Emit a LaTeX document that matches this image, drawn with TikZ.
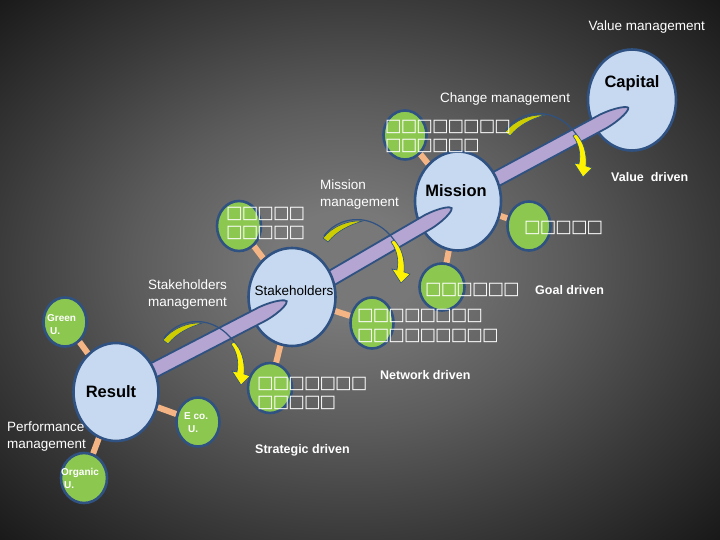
\documentclass[tikz,border=0pt]{standalone}
\usepackage{fontspec}
\setmainfont{Liberation Sans}
\newfontfamily\boxfont{DejaVu Sans Bold}
\usetikzlibrary{shapes.geometric}
\definecolor{skyfill}{RGB}{198,217,241}
\definecolor{rimblue}{RGB}{47,82,130}
\definecolor{leafgreen}{RGB}{140,200,80}
\definecolor{peach}{RGB}{244,180,132}
\definecolor{lavender}{RGB}{180,165,210}
\definecolor{olivey}{RGB}{205,205,0}
\definecolor{bgmid}{RGB}{120,120,120}
\definecolor{bgring}{RGB}{92,92,92}
\definecolor{bgout}{RGB}{58,58,58}
\definecolor{bgedge}{RGB}{20,20,20}
\pgfdeclareradialshading{bgglow}{\pgfpoint{-1bp}{0.5bp}}{color(0bp)=(bgmid); color(5bp)=(bgmid); color(15bp)=(bgring); color(25bp)=(bgout); color(37bp)=(bgedge); color(50bp)=(bgedge)}
\pgfdeclarelayer{back}
\pgfdeclarelayer{links}
\pgfsetlayers{back,links,main}
\newcommand{\sq}{\makebox[15.6pt][l]{\boxfont □}}

\begin{document}
\begin{tikzpicture}[x=1pt, y=-1pt,
  bigc/.style={ellipse, draw=rimblue, line width=2.6pt, fill=skyfill, inner sep=0pt},
  greenc/.style={ellipse, draw=rimblue, line width=2.6pt, fill=leafgreen, inner sep=0pt},
  link/.style={peach, line width=6pt},
  bar/.style={draw=rimblue, line width=1.8pt, fill=lavender},
  wtext/.style={white, font=\fontsize{13.5}{17}\selectfont, inner sep=0pt, align=left},
  wbold/.style={white, font=\bfseries\fontsize{12.5}{15}\selectfont, inner sep=0pt},
  title/.style={black, font=\bfseries\fontsize{16.5}{18}\selectfont, inner sep=0pt},
  small/.style={white, font=\bfseries\fontsize{10}{13}\selectfont, inner sep=0pt, align=left},
  boxes/.style={white, inner sep=0pt, align=left, font=\fontsize{17.5}{19.5}\selectfont}]

  % Background
  \useasboundingbox (0,0) rectangle (720,540);
  \begin{pgfonlayer}{back}
    \shade[shading=bgglow] (0,0) rectangle (720,540);
  \end{pgfonlayer}

  % Green circles
  \node[greenc, minimum width=43pt, minimum height=49pt] (greenu) at (65,322) {};
  \node[greenc, minimum width=43pt, minimum height=49pt] (ecou) at (198,422) {};
  \node[greenc, minimum width=46pt, minimum height=50pt] (organicu) at (84,478) {};
  \node[greenc, minimum width=44pt, minimum height=50pt] (stktop) at (239,226) {};
  \node[greenc, minimum width=43pt, minimum height=51pt] (stkright) at (372,323) {};
  \node[greenc, minimum width=44pt, minimum height=50pt] (stkbottom) at (270,388) {};
  \node[greenc, minimum width=43pt, minimum height=49pt] (mistop) at (405,135) {};
  \node[greenc, minimum width=43pt, minimum height=49pt] (misright) at (529,226) {};
  \node[greenc, minimum width=45pt, minimum height=47pt] (misbottom) at (442,287) {};

  % Main circles with the bar between them
  \node[bigc, minimum width=88pt, minimum height=101pt] (capital) at (632,100) {};
  \begin{scope}[shift={(498,178)}, rotate=28.3]
    \filldraw[bar] (-30,-7.5) -- (120,-7.5) .. controls (138,-6.5) and (148,-2) .. (148,0) .. controls (148,2) and (138,6.5) .. (120,7.5) -- (-30,7.5) -- cycle;
  \end{scope}
  \node[bigc, minimum width=86pt, minimum height=99pt] (mission) at (458,201) {};
  \begin{scope}[shift={(335,276)}, rotate=30.2]
    \filldraw[bar] (-30,-7.5) -- (108,-7.5) .. controls (126,-6.5) and (135,-2) .. (135,0) .. controls (135,2) and (126,6.5) .. (108,7.5) -- (-30,7.5) -- cycle;
  \end{scope}
  \node[bigc, minimum width=87pt, minimum height=98pt] (stake) at (292,297) {};
  \begin{scope}[shift={(158,368)}, rotate=27.4]
    \filldraw[bar] (-30,-7.5) -- (118,-7.5) .. controls (136,-6.5) and (145,-2) .. (145,0) .. controls (145,2) and (136,6.5) .. (118,7.5) -- (-30,7.5) -- cycle;
  \end{scope}
  \node[bigc, minimum width=85pt, minimum height=98pt] (result) at (116,392) {};

  % Yellow turn arrows
  \foreach \tx/\ty in {163/340, 323/238, 505/132} {
    \begin{scope}[shift={(\tx,\ty)}]
      \filldraw[fill=olivey, draw=rimblue, line width=0.6pt] (0,0) .. controls (10,-12) and (25,-18) .. (40,-17) .. controls (26,-13) and (14,-7) .. (5,4) -- cycle;
      \draw[rimblue, line width=1.2pt] (1,-2) .. controls (20,-28) and (65,-25) .. (80,20);
      \filldraw[fill=yellow, draw=rimblue, line width=0.6pt] (68,4) .. controls (74,12) and (76,22) .. (74,32) -- (69,31) -- (78,45) -- (87,36) -- (81,34) .. controls (82,22) and (79,10) .. (71,2) -- cycle;
    \end{scope}
  }

  % Links
  \begin{pgfonlayer}{links}
    \draw[link] (result) -- (greenu);
    \draw[link] (result) -- (ecou);
    \draw[link] (result) -- (organicu);
    \draw[link] (stake) -- (stktop);
    \draw[link] (stake) -- (stkright);
    \draw[link] (stake) -- (stkbottom);
    \draw[link] (mission) -- (mistop);
    \draw[link] (mission) -- (misright);
    \draw[link] (mission) -- (misbottom);
  \end{pgfonlayer}

  % Circle texts
  \node[title] (capitaltxt) at (632,83) {Capital};
  \node[title] (missiontxt) at (456,191) {Mission};
  \node[title] (resulttxt) at (111,392) {Result};
  \node[black, inner sep=0pt, font=\fontsize{13.5}{16}\selectfont] (staketxt) at (294,291) {Stakeholders};
  \node[small, anchor=west] (greentxt) at (47,324.5) {Green\\\hspace{3pt}U.};
  \node[small, anchor=west] (ecotxt) at (184,423) {E co.\\\hspace{4pt}U.};
  \node[small, anchor=west] (organictxt) at (61,478.5) {Organic\\\hspace{3pt}U.};

  % Management labels
  \node[wtext, anchor=east] (valmgmt) at (705,27) {Value management};
  \node[wtext, anchor=west] (chgmgmt) at (440,99) {Change management};
  \node[wtext, anchor=west] (mismgmt) at (320,194.5) {Mission\\management};
  \node[wtext, anchor=west] (stkmgmt) at (148,295) {Stakeholders\\management};
  \node[wtext, anchor=west] (perfmgmt) at (7,436.5) {Performance\\management};

  % Driven labels
  \node[wbold, anchor=west] (valdrv) at (611,177) {Value\ \ driven};
  \node[wbold, anchor=west] (goaldrv) at (535,290) {Goal driven};
  \node[wbold, anchor=west] (netdrv) at (380,375) {Network driven};
  \node[wbold, anchor=west] (strdrv) at (255,450) {Strategic driven};

  % Unreadable labels
  \node[boxes, anchor=west] (chgbox) at (385,136.5) {\sq\sq\sq\sq\sq\sq\sq\sq\\\sq\sq\sq\sq\sq\sq};
  \node[boxes, anchor=west] (misbox) at (524,228) {\sq\sq\sq\sq\sq};
  \node[boxes, anchor=west] (stkbox) at (226,223.5) {\sq\sq\sq\sq\sq\\\sq\sq\sq\sq\sq};
  \node[boxes, anchor=west] (goalbox) at (425,290) {\sq\sq\sq\sq\sq\sq};
  \node[boxes, anchor=west] (netbox) at (357,326) {\sq\sq\sq\sq\sq\sq\sq\sq\\\sq\sq\sq\sq\sq\sq\sq\sq\sq};
  \node[boxes, anchor=west] (strbox) at (257,393.5) {\sq\sq\sq\sq\sq\sq\sq\\\sq\sq\sq\sq\sq};
\end{tikzpicture}
\end{document}
